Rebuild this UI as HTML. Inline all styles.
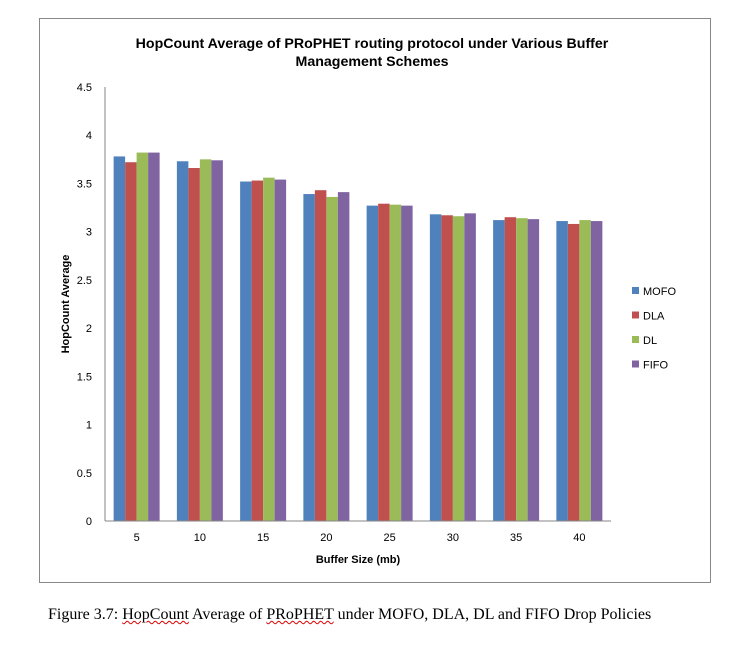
<!DOCTYPE html>
<html><head><meta charset="utf-8"><style>
body{margin:0;background:#fff;width:742px;height:656px;overflow:hidden;font-family:"Liberation Sans",sans-serif}
svg{position:absolute;left:0;top:0}
.cap{position:absolute;left:48px;top:606px;font-family:"Liberation Serif",serif;font-size:16px;color:#000;white-space:nowrap}
.sq{text-decoration:underline wavy #d00;text-decoration-thickness:1px}
</style></head><body>
<svg id="chart" width="742" height="656">
<rect x="39.5" y="18.5" width="671" height="564" fill="#fff" stroke="#888"/>
<text x="372" y="48" text-anchor="middle" font-weight="bold" font-size="14.2">HopCount Average of PRoPHET  routing protocol under Various Buffer</text>
<text x="372" y="66" text-anchor="middle" font-weight="bold" font-size="14.2">Management Schemes</text>
<text transform="translate(69,304) rotate(-90)" text-anchor="middle" font-weight="bold" font-size="11">HopCount Average</text>
<text x="358" y="563" text-anchor="middle" font-weight="bold" font-size="11">Buffer Size (mb)</text>
<g id="bars"></g><g id="axes"></g><g id="legend"></g>
</svg>
<div class="cap">Figure 3.7: <span class="sq">HopCount</span> Average of <span class="sq">PRoPHET</span> under MOFO, DLA, DL and FIFO Drop Policies</div>
<script>
const categories=["5","10","15","20","25","30","35","40"];
const seriesNames=["MOFO","DLA","DL","FIFO"];
const mofo=[3.78,3.73,3.52,3.39,3.27,3.18,3.12,3.11];
const dla=[3.72,3.66,3.53,3.43,3.29,3.17,3.15,3.08];
const dl=[3.82,3.75,3.56,3.36,3.28,3.16,3.14,3.12];
const fifo=[3.82,3.74,3.54,3.41,3.27,3.19,3.13,3.11];
const yTicks=["0","0.5","1","1.5","2","2.5","3","3.5","4","4.5"];
const colors=["#4f81bd","#c0504d","#9bbb59","#8064a2"];
const series=[mofo,dla,dl,fifo];
const NS="http://www.w3.org/2000/svg";
const x0=105,x1=611,y0=521,yTop=87,yMax=4.5;
const band=(x1-x0)/categories.length,bw=11.5;
const ys=v=>y0-(v/yMax)*(y0-yTop);
const xs=(i,s)=>x0+band*i+(band-bw*4)/2+bw*s;
function mk(tag,attrs,parent){const e=document.createElementNS(NS,tag);for(const k in attrs)e.setAttribute(k,attrs[k]);parent.appendChild(e);return e;}
const gb=document.getElementById('bars'),ga=document.getElementById('axes'),gl=document.getElementById('legend');
series.forEach((arr,s)=>arr.forEach((v,i)=>{
 const r=mk('rect',{x:xs(i,s),y:ys(v),width:bw,height:y0-ys(v),fill:colors[s]},gb);
 
 
}));
const ya=mk('line',{x1:x0,y1:yTop,x2:x0,y2:y0,stroke:'#868686'},ga);


const xa=mk('line',{x1:x0,y1:y0,x2:x1,y2:y0,stroke:'#868686'},ga);


yTicks.forEach(t=>{
 const y=ys(parseFloat(t));
 const e=mk('text',{x:92,y:y+4,'text-anchor':'end','font-size':11},ga);e.textContent=t;
 
 
});
categories.forEach((c,i)=>{
 const e=mk('text',{x:x0+band*(i+0.5),y:541,'text-anchor':'middle','font-size':11},ga);e.textContent=c;
 
 
});
seriesNames.forEach((n,s)=>{
 const y=291+s*24.5;
 const g=mk('g',{},gl);
 
 
 mk('rect',{x:632,y:y-4,width:7,height:7,fill:colors[s]},g);
 const t=mk('text',{x:643,y:y+4,'font-size':11},g);t.textContent=n;
});
</script>
</body></html>
